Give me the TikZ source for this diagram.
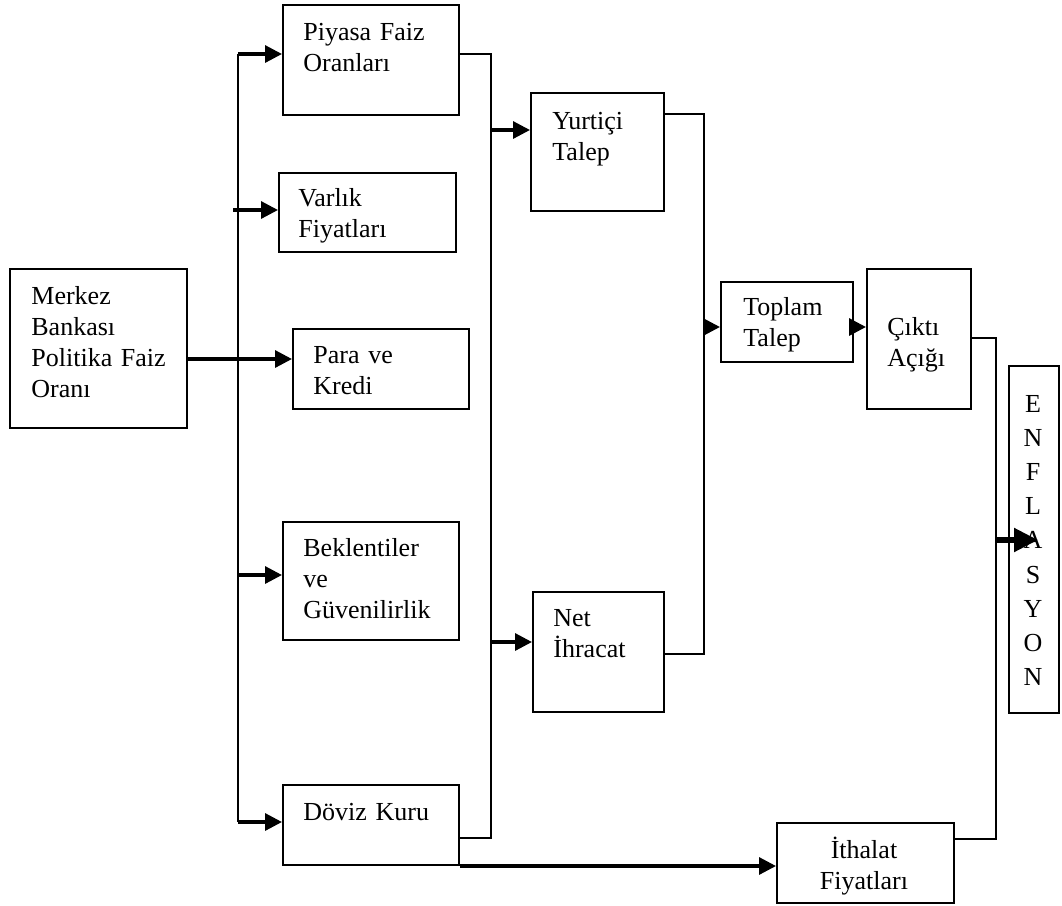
\documentclass[tikz,border=0pt]{standalone}
\usepackage{fontspec}
\setmainfont{Liberation Serif}
\usetikzlibrary{arrows.meta}
\begin{document}
\begin{tikzpicture}[x=0.5pt,y=-0.5pt,
  box/.style n args={2}{draw, line width=1pt, inner sep=0pt, anchor=north west,
    minimum width=#1*0.5pt, minimum height=#2*0.5pt},
  lbl/.style={inner sep=0pt, anchor=base west, align=left, text width=#1,
    font=\fontsize{13}{15.5}\selectfont},
  conn/.style={line width=1pt},
  arr/.style={line width=1.6pt, -{Triangle[length=8.5pt,width=8.5pt]}},
  bigarr/.style={line width=2.6pt, -{Triangle[length=12pt,width=11.5pt]}}]
\useasboundingbox (0,0) rectangle (1062,906);

% boxes
\node[box={177}{159}] (merkez)  at (9,268) {};
\node[box={176}{110}] (piyasa)  at (282,4) {};
\node[box={177}{79}]  (varlik)  at (278,172) {};
\node[box={176}{80}]  (para)    at (292,328) {};
\node[box={176}{118}] (bek)     at (282,521) {};
\node[box={176}{80}]  (doviz)   at (282,784) {};
\node[box={133}{118}] (yurt)    at (530,92) {};
\node[box={131}{120}] (net)     at (532,591) {};
\node[box={132}{80}]  (toplam)  at (720,281) {};
\node[box={104}{140}] (cikti)   at (866,268) {};
\node[box={177}{80}]  (ithalat) at (776,822) {};
\node[box={50}{347}]  (enf)     at (1008,365) {};

% labels
\node[lbl=90pt] (merkez-t)  at (31,304)  {Merkez\\Bankası\\Politika Faiz\\Oranı};
\node[lbl=80pt] (piyasa-t)  at (303,40)  {Piyasa Faiz\\Oranları};
\node[lbl=80pt] (varlik-t)  at (298,206) {Varlık\\Fiyatları};
\node[lbl=70pt] (para-t)    at (313,363) {Para ve\\Kredi};
\node[lbl=80pt] (bek-t)     at (303,556) {Beklentiler\\ve\\Güvenilirlik};
\node[lbl=80pt] (doviz-t)   at (303,820) {Döviz Kuru};
\node[lbl=50pt] (yurt-t)    at (552,129) {Yurtiçi\\Talep};
\node[lbl=50pt] (toplam-t)  at (743,315) {Toplam\\Talep};
\node[lbl=40pt] (cikti-t)   at (887,335) {Çıktı\\Açığı};
\node[lbl=50pt] (net-t)     at (553,626) {Net\\İhracat};
\node[lbl=80pt, anchor=base, align=center] (ithalat-t) at (864,858) {İthalat\\Fiyatları};
\node[inner sep=0pt, anchor=base, align=center, text width=20pt,
  font=\fontsize{13}{17.1}\selectfont] (enf-t) at (1033,412)
  {E\\N\\F\\L\\A\\S\\Y\\O\\N};

% left distribution trunk
\coordinate (lt) at (238,54);
\coordinate (lb) at (238,822);
\coordinate (lv) at (233,210);
\coordinate (lk) at (238,575);
\draw[conn] (lt) -- (lb);
\draw[arr] (lt) -- (lt -| piyasa.west);
\draw[arr] (lv) -- (lv -| varlik.west);
\draw[arr] (lk) -- (lk -| bek.west);
\draw[arr] (lb) -- (lb -| doviz.west);
\coordinate (mp) at (186,359);
\draw[arr] (mp) -- (mp -| para.west);

% right collecting trunk
\coordinate (rt) at (491,54);
\coordinate (rb) at (491,838);
\coordinate (ry) at (491,130);
\coordinate (rn) at (491,642);
\draw[conn] (piyasa.east |- rt) -- (rt) -- (rb) -- (doviz.east |- rb);
\draw[arr] (ry) -- (ry -| yurt.west);
\draw[arr] (rn) -- (rn -| net.west);

% domestic demand and net exports to aggregate demand
\coordinate (yt) at (704,114);
\coordinate (yb) at (704,654);
\coordinate (yd) at (704,327);
\draw[conn] (yurt.east |- yt) -- (yt) -- (yb) -- (net.east |- yb);
\draw[arr] (yd) -- (yd -| toplam.west);
\draw[arr] (toplam.east |- yd) -- (cikti.west |- yd);

% output gap and import prices to inflation
\coordinate (ct) at (996,338);
\coordinate (cb) at (996,839);
\coordinate (ce) at (996,540);
\coordinate (ea) at (1038,540);
\draw[conn] (cikti.east |- ct) -- (ct) -- (cb) -- (ithalat.east |- cb);
\draw[bigarr] (ce) -- (ea);
\draw[arr] (doviz.south east) -- (ithalat.west |- doviz.south east);
\end{tikzpicture}
\end{document}
